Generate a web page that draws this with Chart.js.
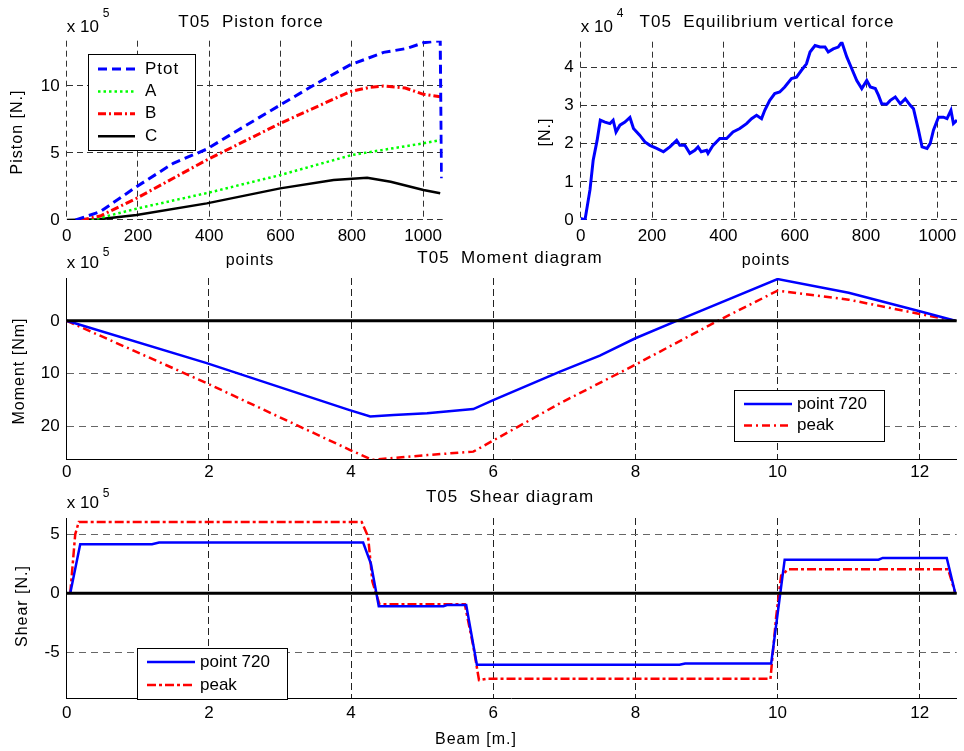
<!DOCTYPE html>
<html>
<head>
<meta charset="utf-8">
<script src="https://cdn.jsdelivr.net/npm/chart.js@4.4.0/dist/chart.umd.min.js"></script>
<style>
html, body { margin: 0; padding: 0; background: #fff; }
#wrap { position: relative; width: 964px; height: 751px; }
#wrap canvas { position: absolute; left: 0; top: 0; }
</style>
</head>
<body>
<div id="wrap">
<canvas id="piston" width="964" height="751"></canvas>
<canvas id="equil" width="964" height="751"></canvas>
<canvas id="moment" width="964" height="751"></canvas>
<canvas id="shear" width="964" height="751"></canvas>
</div>
<script>
// ---- data ----
// piston force, x = points, y = N x 1e5
const ptotX = [25, 94, 196, 299, 393, 468, 599, 702, 795, 889, 954, 1001, 1048, 1052];
const ptotY = [0, 0.62, 2.49, 4.23, 5.29, 6.5, 8.58, 10.2, 11.57, 12.51, 12.8, 13.23, 13.38, 3.11];
const aX = [70, 200, 400, 600, 800, 1000, 1050];
const aY = [0, 0.87, 2.05, 3.36, 4.85, 5.72, 5.97];
const bX = [40, 94, 196, 393, 599, 795, 850, 889, 950, 1001, 1048];
const bY = [0, 0.3, 1.62, 4.48, 7.21, 9.58, 9.9, 10.0, 9.85, 9.38, 9.2];
const cX = [0, 90, 196, 393, 599, 749, 843, 909, 1001, 1048];
const cY = [0, 0.05, 0.37, 1.24, 2.36, 2.98, 3.16, 2.86, 2.24, 1.99];

// equilibrium vertical force, y = N x 1e4
const eqX = [0, 12, 26, 35, 46, 55, 68, 82, 91, 99, 110, 124, 138, 148, 166, 180, 194, 213, 232, 250,
  269, 278, 292, 306, 320, 329, 338, 353, 357, 371, 390, 409, 427, 446, 465, 479, 493, 507, 516, 530,
  544, 558, 572, 591, 605, 619, 633, 643, 657, 671, 685, 694, 708, 722, 732, 746, 760, 774, 788, 802,
  812, 826, 835, 844, 858, 868, 882, 896, 910, 924, 933, 947, 957, 971, 980, 989, 1003, 1017, 1027, 1038,
  1045, 1055];
const eqY = [0.04, 0, 0.79, 1.57, 2.09, 2.62, 2.57, 2.53, 2.62, 2.31, 2.49, 2.57, 2.69, 2.40, 2.22, 2.05, 1.96, 1.88, 1.79, 1.92,
  2.09, 1.96, 1.96, 1.75, 1.83, 1.92, 1.79, 1.83, 1.75, 1.96, 2.14, 2.14, 2.31, 2.40, 2.53, 2.66, 2.75, 2.66, 2.88, 3.14,
  3.32, 3.36, 3.49, 3.71, 3.75, 3.93, 4.10, 4.41, 4.58, 4.54, 4.54, 4.41, 4.49, 4.54, 4.67, 4.28, 3.97, 3.66, 3.45, 3.66,
  3.49, 3.45, 3.27, 3.05, 3.04, 3.14, 3.23, 3.05, 3.18, 3.01, 2.92, 2.36, 1.92, 1.88, 2.01, 2.36, 2.70, 2.70, 2.66, 2.88,
  2.53, 2.62];

// moment diagram, x = beam m, y = Nm x 1e5 (axis reversed)
const momBlueX = [0, 1.97, 3.98, 4.27, 4.6, 5.07, 5.72, 6.0, 6.94, 7.5, 8.0, 8.58, 10.0, 11.0, 12.0, 12.5];
const momBlueY = [0, 8.0, 16.9, 18.1, 17.8, 17.5, 16.7, 15.0, 9.6, 6.6, 3.3, 0, -7.9, -5.3, -1.8, 0];
const momPeakX = [0, 1.97, 3.98, 4.3, 5.07, 5.72, 6.94, 8.0, 9.16, 10.0, 11.0, 12.0, 12.5];
const momPeakY = [0, 11.8, 24.4, 26.3, 25.4, 24.75, 15.6, 8.3, 0, -5.7, -4.0, -1.3, 0];

// shear diagram, y = N x 1e5
const shBlueX = [0.05, 0.19, 1.2, 1.3, 4.17, 4.28, 4.39, 5.3, 5.35, 5.62, 5.77, 8.62, 8.7, 9.91, 10.1, 11.42, 11.48, 12.38, 12.5];
const shBlueY = [0, 4.15, 4.15, 4.3, 4.3, 2.5, -1.1, -1.1, -1.0, -1.0, -6.05, -6.05, -5.95, -5.95, 2.85, 2.85, 3.0, 3.0, 0];
const shPeakX = [0.05, 0.12, 0.17, 4.15, 4.24, 4.3, 4.4, 5.6, 5.72, 5.8, 5.9, 9.9, 9.98, 10.05, 10.15, 12.4, 12.5];
const shPeakY = [0, 5.0, 6.05, 6.05, 4.8, 1.0, -0.93, -0.93, -4.5, -7.35, -7.25, -7.25, -2.0, 1.5, 2.03, 2.03, 0];

const zeroX = [0, 12.55];
const zeroY = [0, 0];

// tick labels
const pointTicks = [0, 200, 400, 600, 800, 1000];
const pistonTicks = [0, 5, 10];
const equilTicks = [0, 1, 2, 3, 4];
const beamTicks = [0, 2, 4, 6, 8, 10, 12];
const momentTicks = [0, 10, 20];
const shearTicks = [-5, 0, 5];

const FONT = '"Liberation Sans", Arial, Helvetica, sans-serif';

const pts = (xs, ys) => xs.map((x, i) => ({ x: x, y: ys[i] }));

const line = (label, xs, ys, color, width, dash, order) => ({
    label: label,
    data: pts(xs, ys),
    borderColor: color,
    borderWidth: width,
    borderDash: dash,
    pointRadius: 0,
    fill: false,
    order: order
});

// text, legend box and exponent labels drawn matlab-style
const matlabText = {
    id: 'matlabText',
    afterDatasetsDraw(chart, args, opts) {
        const lg = opts.legend;
        if (!lg) return;
        const ctx = chart.ctx;
        ctx.save();
        ctx.fillStyle = '#fff';
        ctx.fillRect(lg.x, lg.y, lg.w, lg.h);
        ctx.strokeStyle = '#000';
        ctx.lineWidth = 1;
        ctx.strokeRect(lg.x + 0.5, lg.y + 0.5, lg.w, lg.h);
        const sets = chart.data.datasets.filter(d => d.label);
        sets.forEach((d, i) => {
            const y = lg.y + lg.rowTop + i * lg.rowStep;
            ctx.beginPath();
            ctx.strokeStyle = d.borderColor;
            ctx.lineWidth = d.borderWidth;
            ctx.setLineDash(d.borderDash || []);
            ctx.moveTo(lg.x + lg.s0, y);
            ctx.lineTo(lg.x + lg.s1, y);
            ctx.stroke();
            ctx.setLineDash([]);
            ctx.fillStyle = '#000';
            ctx.font = '17px ' + FONT;
            ctx.letterSpacing = (lg.sp || 0) + 'px';
            ctx.textAlign = 'left';
            ctx.textBaseline = 'middle';
            ctx.fillText(d.label, lg.x + lg.tx, y);
        });
        ctx.restore();
    },
    afterDraw(chart, args, opts) {
        const ctx = chart.ctx;
        (opts.texts || []).forEach(t => {
            ctx.save();
            ctx.fillStyle = '#000';
            ctx.font = (t.size || 17) + 'px ' + FONT;
            ctx.letterSpacing = (t.sp || 0) + 'px';
            if (t.rot) {
                ctx.translate(t.x, t.y);
                ctx.rotate(-Math.PI / 2);
                ctx.textAlign = 'center';
                ctx.textBaseline = 'middle';
                ctx.fillText(t.t, 0, 0);
            } else if (t.sup) {
                ctx.textAlign = 'left';
                ctx.textBaseline = 'alphabetic';
                ctx.fillText(t.t, t.x, t.y);
                const w = ctx.measureText(t.t).width;
                ctx.font = '12px ' + FONT;
                ctx.fillText(t.sup, t.x + w + 4, t.supY);
            } else {
                ctx.textAlign = t.align || 'center';
                ctx.textBaseline = 'alphabetic';
                ctx.fillText(t.t, t.x, t.y);
            }
            ctx.restore();
        });
    }
};

const axis = (o) => ({
    type: 'linear',
    position: o.pos,
    min: o.min,
    max: o.max,
    reverse: !!o.reverse,
    afterFit: (s) => {
        if (o.pos === 'left') s.width = 50; else s.height = 30;
    },
    afterBuildTicks: (s) => { s.ticks = o.ticks.map(v => ({ value: v })); },
    ticks: {
        color: '#000',
        font: { family: FONT, size: 17 },
        padding: o.pad,
        maxRotation: 0,
        autoSkip: false,
        callback: (v) => String(v)
    },
    grid: { color: o.gridColor, lineWidth: 1, drawTicks: false },
    border: { display: o.border, color: '#000', width: 1, dash: o.dash }
});

const makeChart = (id, datasets, cfg) => new Chart(document.getElementById(id), {
    type: 'line',
    data: { datasets: datasets },
    options: {
        responsive: false,
        animation: false,
        events: [],
        layout: { padding: cfg.pad },
        plugins: {
            legend: { display: false },
            tooltip: { enabled: false },
            matlabText: { texts: cfg.texts, legend: cfg.legend }
        },
        scales: { x: axis(cfg.x), y: axis(cfg.y) }
    },
    plugins: [matlabText]
});

makeChart('piston', [
    line('Ptot', ptotX, ptotY, '#0000ff', 3, [9, 5], 1),
    line('A', aX, aY, '#00ff00', 2.5, [2.5, 3], 3),
    line('B', bX, bY, '#ff0000', 3, [8, 3, 2, 3], 2),
    line('C', cX, cY, '#000000', 2.5, [], 4)
], {
    pad: { left: 16.7, top: 40.7, right: 521.3, bottom: 501 },
    x: { pos: 'bottom', min: 0, max: 1055, ticks: pointTicks, pad: 6.5, gridColor: '#333', border: false, dash: [6, 4] },
    y: { pos: 'left', min: 0, max: 13.38, ticks: pistonTicks, pad: 7, gridColor: '#333', border: false, dash: [6, 4] },
    texts: [
        { t: 'T05  Piston force', x: 251, y: 27, sp: 1 },
        { t: 'x 10', sup: '5', x: 66.7, y: 31.5, supY: 17 },
        { t: 'Piston [N.]', x: 18, y: 132, size: 16, sp: 1, rot: true },
        { t: 'points', x: 250, y: 265, size: 16, sp: 1 }
    ],
    legend: { x: 88, y: 54, w: 107, h: 96, rowTop: 15, rowStep: 22.4, s0: 10, s1: 47, tx: 57, sp: 1 }
});

makeChart('equil', [
    line('', eqX, eqY, '#0000ff', 3, [], 1)
], {
    pad: { left: 530.7, top: 41.7, right: 7, bottom: 501 },
    x: { pos: 'bottom', min: 0, max: 1055, ticks: pointTicks, pad: 6.5, gridColor: '#333', border: false, dash: [6, 4] },
    y: { pos: 'left', min: 0, max: 4.68, ticks: equilTicks, pad: 7, gridColor: '#333', border: false, dash: [6, 4] },
    texts: [
        { t: 'T05  Equilibrium vertical force', x: 767, y: 27, sp: 1 },
        { t: 'x 10', sup: '4', x: 580.7, y: 31.5, supY: 17 },
        { t: '[N.]', x: 546, y: 132, size: 16, sp: 1, rot: true },
        { t: 'points', x: 766, y: 265, size: 16, sp: 1 }
    ]
});

makeChart('moment', [
    line('', zeroX, zeroY, '#000000', 3, [], 0),
    line('point 720', momBlueX, momBlueY, '#0000ff', 2.5, [], 1),
    line('peak', momPeakX, momPeakY, '#ff0000', 2.5, [8, 4, 2, 4], 2)
], {
    pad: { left: 16.7, top: 278, right: 7.3, bottom: 261.7 },
    x: { pos: 'bottom', min: 0, max: 12.52, ticks: beamTicks, pad: 2.5, gridColor: '#222', border: true, dash: [7, 4] },
    y: { pos: 'left', min: -8.1, max: 26.2, reverse: true, ticks: momentTicks, pad: 7, gridColor: '#666', border: true, dash: [7, 5] },
    texts: [
        { t: 'T05  Moment diagram', x: 510, y: 263, sp: 1 },
        { t: 'x 10', sup: '5', x: 66.7, y: 268, supY: 256 },
        { t: 'Moment [Nm]', x: 19.5, y: 371, size: 16, sp: 1, rot: true }
    ],
    legend: { x: 734, y: 390, w: 150, h: 51, rowTop: 14, rowStep: 21.5, s0: 10, s1: 58, tx: 63, sp: 0 }
});

makeChart('shear', [
    line('', zeroX, zeroY, '#000000', 3, [], 0),
    line('point 720', shBlueX, shBlueY, '#0000ff', 2.5, [], 1),
    line('peak', shPeakX, shPeakY, '#ff0000', 2.5, [9, 3, 3, 3], 2)
], {
    pad: { left: 16.7, top: 518, right: 7.3, bottom: 22.7 },
    x: { pos: 'bottom', min: 0, max: 12.52, ticks: beamTicks, pad: 4.5, gridColor: '#222', border: true, dash: [7, 4] },
    y: { pos: 'left', min: -8.9, max: 6.38, ticks: shearTicks, pad: 7, gridColor: '#666', border: true, dash: [7, 5] },
    texts: [
        { t: 'T05  Shear diagram', x: 510, y: 501.5, sp: 1 },
        { t: 'x 10', sup: '5', x: 66.7, y: 508, supY: 496.5 },
        { t: 'Shear [N.]', x: 23, y: 606, size: 16, sp: 1, rot: true },
        { t: 'Beam [m.]', x: 476, y: 744, size: 16, sp: 1 }
    ],
    legend: { x: 137, y: 648, w: 150, h: 51, rowTop: 14, rowStep: 23, s0: 10, s1: 58, tx: 63, sp: 0 }
});
</script>
</body>
</html>
